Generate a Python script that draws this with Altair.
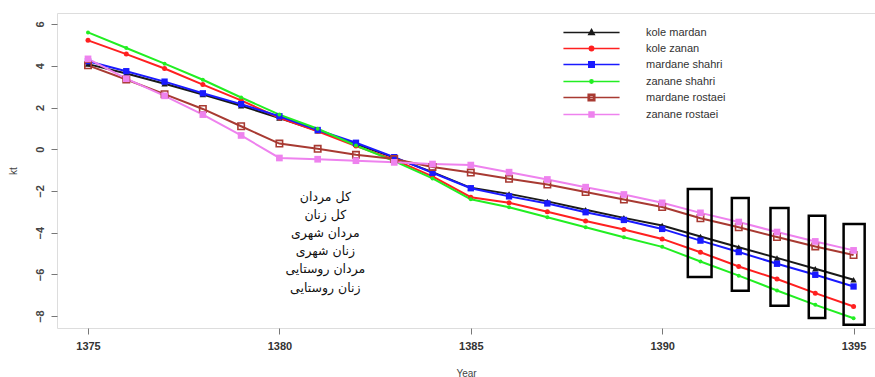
import altair as alt
import pandas as pd

years = list(range(1375, 1396))
series_names = ["kole mardan", "kole zanan", "mardane shahri",
                "zanane shahri", "mardane rostaei", "zanane rostaei"]

kole_mardan = [4.08, 3.63, 3.14, 2.62, 2.08, 1.50, 0.88, 0.25, -0.40, -1.10, -1.85,
               -2.14, -2.50, -2.90, -3.29, -3.66, -4.18, -4.70, -5.21, -5.73, -6.26]
kole_zanan = [5.22, 4.56, 3.87, 3.10, 2.34, 1.50, 0.86, 0.15, -0.50, -1.30, -2.30,
              -2.57, -3.00, -3.44, -3.85, -4.30, -4.94, -5.62, -6.22, -6.90, -7.54]
mardane_shahri = [4.22, 3.74, 3.24, 2.68, 2.16, 1.58, 0.92, 0.31, -0.38, -1.13, -1.87,
                  -2.26, -2.60, -3.02, -3.39, -3.82, -4.38, -4.93, -5.49, -6.02, -6.58]
zanane_shahri = [5.60, 4.85, 4.10, 3.33, 2.48, 1.66, 0.98, 0.18, -0.57, -1.40, -2.40,
                 -2.78, -3.26, -3.74, -4.22, -4.68, -5.38, -6.06, -6.77, -7.46, -8.10]
mardane_rostaei = [4.02, 3.34, 2.64, 1.93, 1.10, 0.27, 0.02, -0.27, -0.47, -0.85, -1.12,
                   -1.42, -1.69, -2.05, -2.41, -2.77, -3.31, -3.74, -4.21, -4.66, -5.07]
zanane_rostaei = [4.33, 3.38, 2.56, 1.66, 0.66, -0.42, -0.48, -0.55, -0.63, -0.71, -0.76,
                  -1.10, -1.45, -1.82, -2.17, -2.57, -3.05, -3.49, -3.97, -4.42, -4.85]

series_colors = ["#1a1a1a", "#ff2020", "#1a1aff", "#22ee22", "#a83a32", "#ee82ee"]
marker_shapes = [
    "triangle-up",
    "circle",
    "square",
    "circle",
    "M-1,-1H1V1H-1Z M-0.6,-0.6V0.6H0.6V-0.6Z M-0.6,-0.6L0.6,0.6M0.6,-0.6L-0.6,0.6",
    "square",
]
marker_sizes = [40, 25, 40, 16, 64, 45]
legend_markers = [
    "M0,-0.55L0.5,0.35L-0.5,0.35Z",
    "M-0.4,0A0.4,0.4 0 1,0 0.4,0A0.4,0.4 0 1,0 -0.4,0Z",
    "M-0.5,-0.5H0.5V0.5H-0.5Z",
    "M-0.3,0A0.3,0.3 0 1,0 0.3,0A0.3,0.3 0 1,0 -0.3,0Z",
    "M-0.6,-0.6H0.6V0.6H-0.6Z M-0.35,-0.35V0.35H0.35V-0.35Z",
    "M-0.45,-0.45H0.45V0.45H-0.45Z",
]

box_x_start = [1390.67, 1391.82, 1392.83, 1393.83, 1394.74]
box_x_end = [1391.29, 1392.26, 1393.30, 1394.26, 1395.29]
box_y_top = [-1.91, -2.34, -2.82, -3.19, -3.59]
box_y_bottom = [-6.13, -6.78, -7.50, -8.09, -8.41]

persian_labels = ["کل مردان", "کل زنان", "مردان شهری", "زنان شهری",
                  "مردان روستایی", "زنان روستایی"]

x_ticks = [1375, 1380, 1385, 1390, 1395]
y_ticks = [-8, -6, -4, -2, 0, 2, 4, 6]

all_values = [kole_mardan, kole_zanan, mardane_shahri,
              zanane_shahri, mardane_rostaei, zanane_rostaei]
rows = []
for name, vals, col, shp, sz in zip(series_names, all_values, series_colors,
                                    marker_shapes, marker_sizes):
    for yr, v in zip(years, vals):
        rows.append({"year": yr, "kt": v, "series": name,
                     "pt_color": col, "pt_shape": shp, "pt_size": sz})
df = pd.DataFrame(rows)

boxes = pd.DataFrame({"x1": box_x_start, "x2": box_x_end,
                      "y1": box_y_top, "y2": box_y_bottom})
note = pd.DataFrame({"year": [1381.2], "kt": [-1.98],
                     "label": ["\n".join(persian_labels)]})

xscale = alt.Scale(domain=[1374.19, 1395.56], nice=False, zero=False)
yscale = alt.Scale(domain=[-8.57, 6.53], nice=False, zero=False)

names_js = "[" + ",".join("'" + n + "'" for n in series_names) + "]"
paths_js = "[" + ",".join("'M-5,0H5 " + p + "'" for p in legend_markers) + "]"
shape_expr = paths_js + "[indexof(" + names_js + ", datum.value)]"
colors_js = "[" + ",".join("'" + c + "'" for c in series_colors) + "]"
color_expr = colors_js + "[indexof(" + names_js + ", datum.value)]"

color = alt.Color(
    "series:N",
    scale=alt.Scale(domain=series_names, range=series_colors),
    legend=alt.Legend(
        title=None, orient="none", legendX=528, legendY=13, padding=0,
        labelFontSize=11, labelColor="#333333", labelFont="Liberation Sans",
        labelOffset=48, rowPadding=4, symbolSize=126, symbolStrokeWidth=1.4,
        symbolOpacity=1,
        symbolType={"expr": shape_expr},
        symbolFillColor={"expr": color_expr},
        symbolStrokeColor={"expr": color_expr},
    ),
)

xaxis = alt.Axis(values=x_ticks, format="d", title="Year", grid=False, domain=False,
                 tickSize=6, tickColor="#777777", labelFontWeight="bold",
                 labelFontSize=11, labelColor="#333333", labelPadding=6,
                 titleFontSize=10, titleFontWeight="normal", titleColor="#444444",
                 titlePadding=17, labelFlush=False)
yaxis = alt.Axis(values=y_ticks, title="kt", grid=False, domain=False,
                 tickSize=6, tickColor="#777777", labelFontWeight="bold",
                 labelFontSize=11, labelColor="#444444", labelAngle=270,
                 labelAlign="center", labelBaseline="bottom", labelPadding=6,
                 titleFontSize=10, titleFontWeight="normal", titleColor="#444444",
                 titlePadding=16)

base = alt.Chart(df)
lines = base.mark_line(strokeWidth=2, clip=True).encode(
    x=alt.X("year:Q", scale=xscale, axis=xaxis),
    y=alt.Y("kt:Q", scale=yscale, axis=yaxis),
    color=color,
    order="year:Q",
)
points = base.mark_point(filled=True, opacity=1, strokeWidth=1, clip=True).encode(
    x=alt.X("year:Q", scale=xscale),
    y=alt.Y("kt:Q", scale=yscale),
    color=alt.Color("pt_color:N", scale=None),
    shape=alt.Shape("pt_shape:N", scale=None),
    size=alt.Size("pt_size:Q", scale=None),
)
rects = alt.Chart(boxes).mark_rect(filled=False, stroke="black", strokeWidth=2.5).encode(
    x=alt.X("x1:Q", scale=xscale), x2="x2:Q",
    y=alt.Y("y1:Q", scale=yscale), y2="y2:Q",
)
text = alt.Chart(note).mark_text(
    lineBreak="\n", lineHeight=18.2, baseline="top", align="center",
    font="DejaVu Sans", fontSize=12.5, color="#111111",
).encode(
    x=alt.X("year:Q", scale=xscale),
    y=alt.Y("kt:Q", scale=yscale),
    text="label:N",
)

chart = alt.layer(lines, points, rects, text).properties(
    width=818, height=315,
    autosize=alt.AutoSizeParams(type="none"),
    padding={"left": 57, "top": 13, "right": 0, "bottom": 49},
).configure_view(stroke="#8c8c8c", strokeWidth=1.5).configure(
    font="Liberation Sans", background="white"
)

chart.save("out.html", embed_options={"renderer": "svg", "actions": False})
